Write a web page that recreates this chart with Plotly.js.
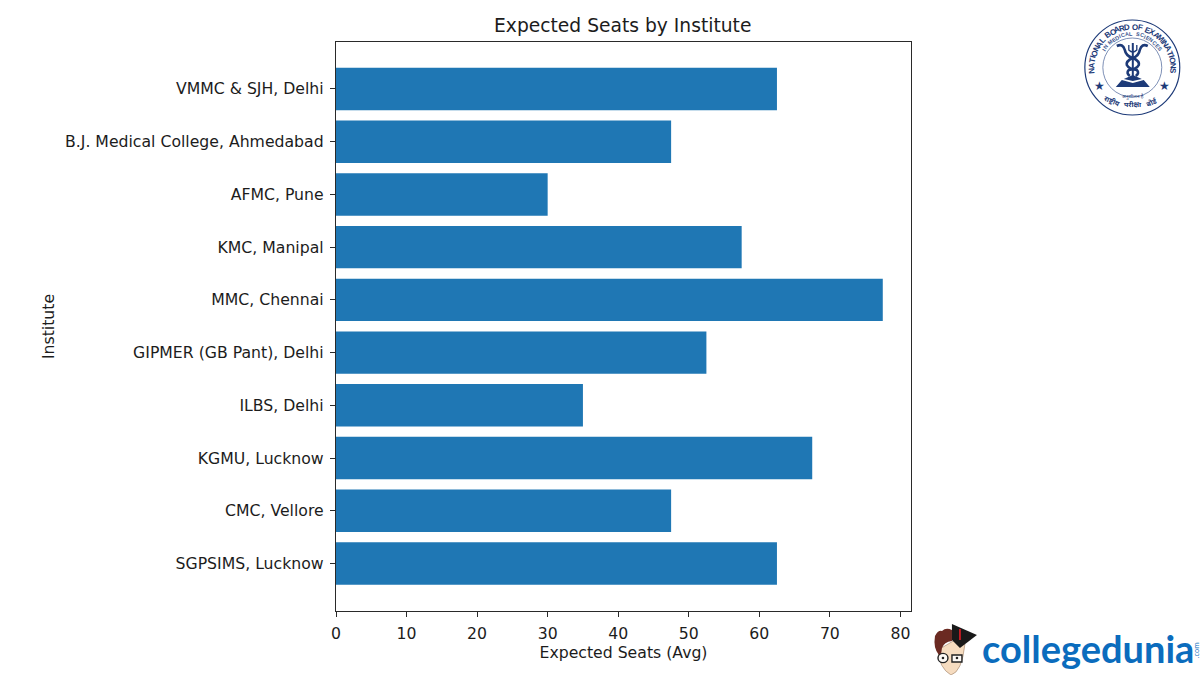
<!DOCTYPE html>
<html>
<head>
<meta charset="utf-8">
<script src="https://cdn.plot.ly/plotly-3.0.1.min.js"></script>
<style>html,body{margin:0;padding:0;background:#fff}#chart{width:1200px;height:675px}</style>
</head>
<body>
<div id="chart"></div>
<script>
const institutes = ["SGPSIMS, Lucknow","CMC, Vellore","KGMU, Lucknow","ILBS, Delhi","GIPMER (GB Pant), Delhi","MMC, Chennai","KMC, Manipal","AFMC, Pune","B.J. Medical College, Ahmedabad","VMMC & SJH, Delhi"];
const expectedSeats = [62.5,47.5,67.5,35,52.5,77.5,57.5,30,47.5,62.5];
const xTicks = [0,10,20,30,40,50,60,70,80];
const chartTitle = "Expected Seats by Institute";
const xTitle = "Expected Seats (Avg)";
const yTitle = "Institute";

const L=335.5,R=911,T=42,B=611;
const px=x=>(x-L)/(R-L), py=y=>(B-y)/(B-T);
const NAVY="#1d3a78", BLUE="#0b6cbd", INK="#1c1c1c";
const FONT="DejaVu Sans";
const annotations=[], shapes=[];
function label(text,x,y,size,color,angle,family){
  annotations.push({text,x:px(x),y:py(y),xref:"paper",yref:"paper",showarrow:false,xanchor:"center",yanchor:"middle",
    font:{size,color,family:family||"Liberation Sans"},textangle:angle||0,borderpad:0,borderwidth:0});
}
function arcText(text,cx,cy,r,a0,a1,size,color){
  const w=c=>c==="I"?0.5:(c===" "?0.6:1);
  const chars=[...text];
  const total=chars.reduce((s,c)=>s+w(c),0);
  let run=0;
  chars.forEach(c=>{
    const a=a0+(a1-a0)*(run+w(c)/2)/total, t=a*Math.PI/180;
    run+=w(c);
    if(c===" ")return;
    label("<b>"+c+"</b>",cx+r*Math.sin(t),cy-r*Math.cos(t),size,color,a);
  });
}
function pathShape(path,fill,line,w){
  shapes.push({type:"path",xref:"paper",yref:"paper",layer:"above",path,fillcolor:fill||"rgba(0,0,0,0)",line:{color:line||"rgba(0,0,0,0)",width:line?(w||1):0}});
}
function P(pairs){
  return pairs.replace(/(-?[\d.]+) (-?[\d.]+)/g,(m,a,b)=>px(+a)+","+py(+b));
}
function circle(cx,cy,rx,ry,fill,line,w){
  shapes.push({type:"circle",xref:"paper",yref:"paper",layer:"above",x0:px(cx-rx),x1:px(cx+rx),y0:py(cy+ry),y1:py(cy-ry),
    fillcolor:fill||"rgba(0,0,0,0)",line:{color:line||"rgba(0,0,0,0)",width:line?(w||1):0}});
}
/* Seal */
const SX=1132.5,SY=67.5;
circle(SX,SY,47.5,47.5,"#fff",NAVY,1.2);
circle(SX,SY,29.5,29.5,"#fff","#5d73a3",0.8);
arcText("NATIONAL BOARD OF EXAMINATIONS",SX,SY,40.5,-98,98,8,NAVY);
arcText("IN MEDICAL SCIENCES",SX,SY,33.5,-60,60,5.5,"#3c5690");
label("★",1100,86,12,NAVY);
label("★",1165,86,12,NAVY);
label("<b>राष्ट्रीय</b>",1113,101,7,NAVY,24,"Noto Sans");
label("<b>परीक्षा</b>",1133,105,7,NAVY,0,"Noto Sans");
label("<b>बोर्ड</b>",1152,102,7,NAVY,-24,"Noto Sans");
label("अनुशीलन है",1133,97,5,NAVY,0,"Noto Sans");
// emblem
pathShape(P("M 1133 43 L 1133 78"),null,NAVY,2);
pathShape(P("M 1129 45 L 1129 50 Q 1133 54 1137 50 L 1137 45"),null,NAVY,1.3);
pathShape(P("M 1117 46 Q 1123 43 1125 50 Q 1126 56 1133 58 Q 1140 61 1139 65 Q 1137 69 1129 70 Q 1126 73 1130 76"),null,NAVY,2.6);
pathShape(P("M 1148 46 Q 1142 43 1140 50 Q 1139 56 1133 58 Q 1126 61 1127 65 Q 1129 69 1137 70 Q 1140 73 1136 76"),null,NAVY,2.6);
pathShape(P("M 1116 87 L 1150 87 L 1144 80 L 1133 83 L 1122 80 Z"),NAVY);
pathShape(P("M 1124 79 L 1133 75 L 1142 79 L 1133 81 Z"),NAVY);

/* College Dunia logo */
label("<b>collegedunia</b>",1088,648,38,BLUE,0,"Lato");
label(".com",1196.5,650,7,BLUE,-90,"Open Sans");
// cartoon
pathShape(P("M 938 650 Q 939 668 951 675 Q 962 672 965 644 L 955 640 Z"),"#f6dcc0","#8a6a50",0.5);
pathShape(P("M 939 655 Q 933 648 935 636 Q 938 630 942 631 Q 946 627 952 630 L 952 641 Q 944 642 942 648 L 941 655 Z"),"#6b2a22");
pathShape(P("M 952 624 L 977 635 L 960 648 L 952 640 Z"),"#191919");
pathShape(P("M 960 629 L 960 640"),null,"#d01c24",1.8);
circle(943,658,5,4.6,"rgba(255,255,255,0.85)","#222",1.4);
shapes.push({type:"rect",xref:"paper",yref:"paper",layer:"above",x0:px(952),x1:px(962),y0:py(662),y1:py(655),fillcolor:"rgba(255,255,255,0.85)",line:{color:"#222",width:1.4}});
circle(943,658,1.3,1.3,"#222");
circle(957,658,1.3,1.3,"#222");

const data=[{type:"bar",orientation:"h",y:institutes,x:expectedSeats,width:0.805,marker:{color:"#1f77b4",line:{width:0}},hoverinfo:"x+y"}];
const axisStyle={ticks:"outside",ticklen:5,tickwidth:1,tickcolor:"#2a2a2a",showgrid:false,zeroline:false,showline:true,mirror:true,linecolor:"#2a2a2a",linewidth:1.2,layer:"above traces",automargin:false,ticklabelstandoff:3};
const layout={
  width:1200,height:675,margin:{l:L,r:1200-R,t:T,b:675-B,pad:0},
  paper_bgcolor:"#fff",plot_bgcolor:"#fff",showlegend:false,
  font:{family:FONT,size:15.7,color:INK},
  title:{text:chartTitle,font:{family:FONT,size:18.7,color:INK},x:(L+R-1)/2/1200,xanchor:"center",y:1-25/675,yanchor:"middle"},
  xaxis:Object.assign({title:{text:xTitle,font:{family:FONT,size:15.7,color:INK},standoff:3},range:[0,81.5],tickmode:"array",tickvals:xTicks,ticktext:xTicks.map(String)},axisStyle),
  yaxis:Object.assign({title:{text:yTitle,font:{family:FONT,size:15.7,color:INK},standoff:6},type:"category",categoryorder:"array",categoryarray:institutes,range:[-0.9,9.89]},axisStyle),
  annotations,shapes
};
Plotly.newPlot("chart",data,layout,{displayModeBar:false,staticPlot:true});
</script>
</body>
</html>
